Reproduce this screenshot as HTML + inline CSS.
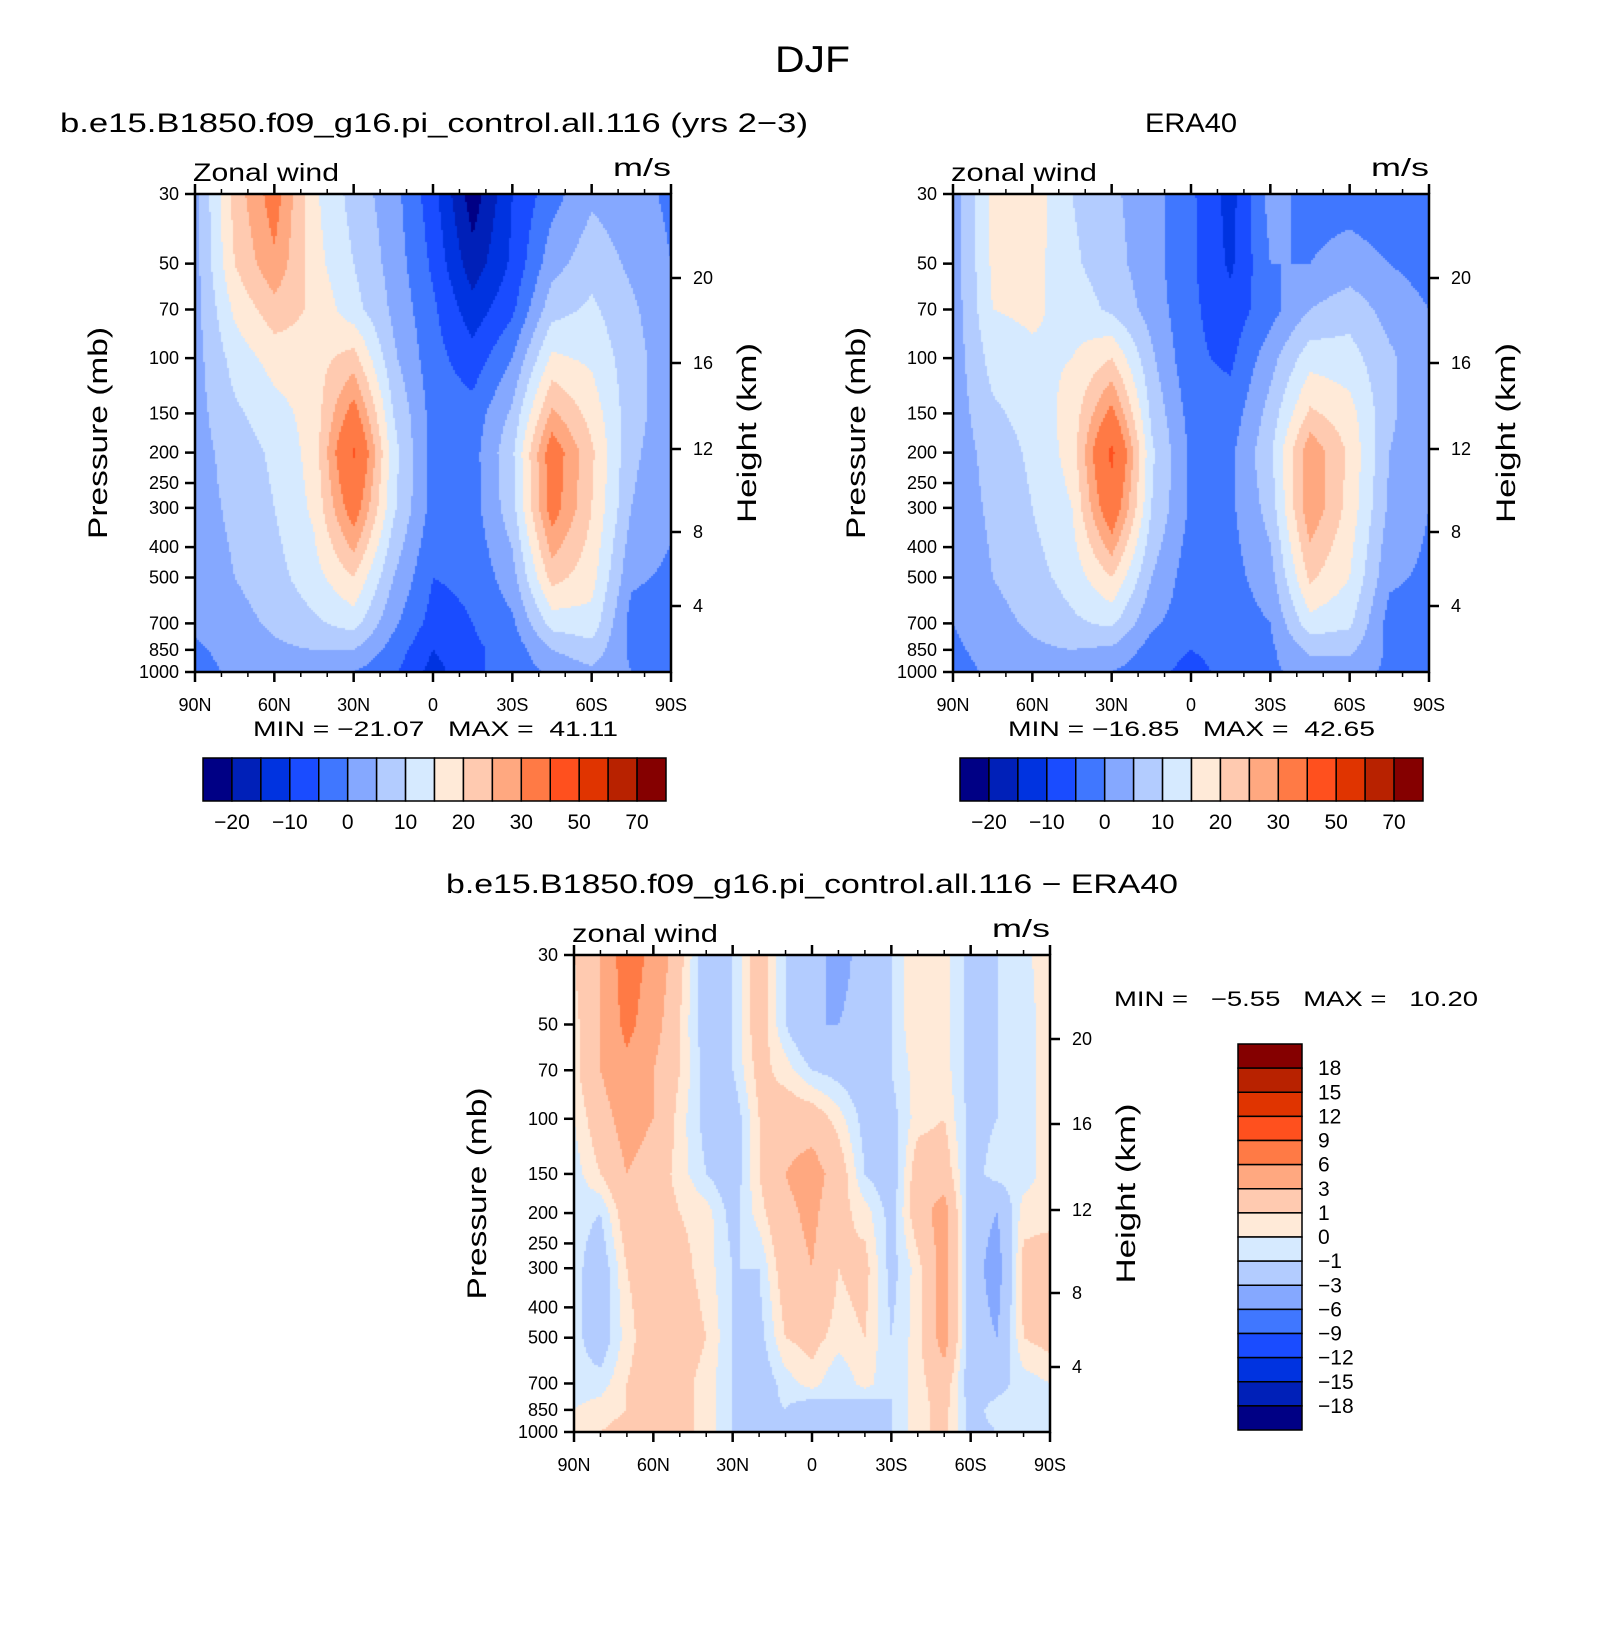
<!DOCTYPE html>
<html><head><meta charset="utf-8">
<style>
html,body{margin:0;padding:0;background:#fff;}
#wrap{position:relative;width:1624px;height:1627px;overflow:hidden;}
canvas{position:absolute;}
svg{position:absolute;left:0;top:0;}
text{font-family:"Liberation Sans",sans-serif;fill:#000;}
</style></head>
<body>
<div id="wrap">
<canvas id="c1" width="476" height="478" style="left:195px;top:194px"></canvas>
<canvas id="c2" width="476" height="478" style="left:953px;top:194px"></canvas>
<canvas id="c3" width="476" height="477" style="left:574px;top:955px"></canvas>
<svg id="ov" width="1624" height="1627">
<text x="775" y="72" font-size="37" textLength="75" lengthAdjust="spacingAndGlyphs">DJF</text>
<text x="60" y="132" font-size="27" textLength="748" lengthAdjust="spacingAndGlyphs">b.e15.B1850.f09_g16.pi_control.all.116 (yrs 2−3)</text>
<text x="1145" y="132" font-size="27" textLength="92" lengthAdjust="spacingAndGlyphs">ERA40</text>
<text x="446" y="893" font-size="27" textLength="732" lengthAdjust="spacingAndGlyphs">b.e15.B1850.f09_g16.pi_control.all.116 − ERA40</text>
<text x="253" y="736" font-size="21" xml:space="preserve" textLength="365" lengthAdjust="spacingAndGlyphs">MIN = −21.07   MAX =  41.11</text>
<text x="1008" y="736" font-size="21" xml:space="preserve" textLength="367" lengthAdjust="spacingAndGlyphs">MIN = −16.85   MAX =  42.65</text>
<text x="1114" y="1006" font-size="21" xml:space="preserve" textLength="364" lengthAdjust="spacingAndGlyphs">MIN =   −5.55   MAX =   10.20</text>
</svg>
</div>
<script>
// ---- data ----
const lats13 = [90,75,60,45,30,15,0,-15,-30,-45,-60,-75,-90];
const lats19 = [90,80,70,60,50,40,30,20,10,0,-10,-20,-30,-40,-50,-60,-70,-80,-90];
const pLevels = [30,50,70,100,150,200,300,500,700,850,1000];
const modelU = [
[3,22,33,16,8,2,-8,-23,-10,-2,4,2,-1],
[3,20,29,17,10,3,-6,-18,-9,3,8,4,0],
[3,16,23,19,12,4,-4,-13,-6,8,11,6,1],
[3,12,17,18,22,6,-3,-8,0,16,14,7,2],
[3,9,13,17,33,10,-2,-3,6,26,18,7,2],
[3,7,11,17,41,12,-2,-2,9,34,21,6,2],
[3,6,10,16,34,11,-2,-2,8,33,20,5,1],
[2,5,8,13,20,5,-5,-4,3,22,17,1,-1],
[1,3,6,9,12,1,-7,-5,-1,12,13,-2,-4],
[-1,2,4,5,5,-2,-10,-6,-3,5,8,-1,-3],
[-2,1,2,2,0,-4,-12,-6,-3,1,4,0,-2]];
const eraU = [
[2,16,18,10,6,2,-4,-12,2,-2,-2,-3,-2],
[2,16,17,11,7,2,-4,-11,0,0,2,0,-2],
[2,15,16,13,9,3,-4,-8,-2,5,8,3,0],
[2,12,14,15,20,6,-4,-6,3,13,12,6,1],
[2,9,12,17,32,9,-2,-3,7,21,17,6,1],
[2,7,11,17,42,11,-1,-1,9,29,19,5,1],
[2,6,10,15,36,10,-1,-1,7,29,18,4,0],
[1,5,8,12,20,5,-3,-2,3,21,15,1,-1],
[0,3,6,9,11,1,-3,-3,0,13,11,-2,-2],
[-1,2,4,5,4,-2,-5,-3,-1,6,6,-1,-2],
[-2,1,2,2,0,-3,-7,-3,-1,2,2,-1,-1]];
const diffU = [
[1,3,8,5,1.5,-2,-1,2,-1,-2,-4,-2,-1,1,0.5,-1.5,-1,-0.5,1],
[0.5,3,7,4,1,-2,-1,2,-1,-3,-3,-2,-1,1,0.5,-1.5,-1,-0.5,0.5],
[0.5,3,5,3,1,-1.5,-1,1.5,0.5,-1,-1.5,-2,-1,0.5,0.5,-1.5,-1,-0.5,0.5],
[0,2,4,3,0.5,-1.5,-2,1,2,2,0.5,-1.5,-1.5,0.5,1,-1.5,-1,-0.5,0.5],
[-0.5,1,3,2,0.5,-1,-2,1,3,4,2,-1,-2,2,2,-1.5,-0.5,-0.5,0.5],
[-0.5,-1,2,2,1,0.5,-1.5,0.5,2.5,3.5,1.5,0.5,-1.5,2,4,-2,-3,0.5,0.5],
[-0.5,-2,1,2,1.5,0.5,-1,-1,2,3,1,1.5,-1.5,0.5,4,-2,-4,1.5,2],
[-0.5,-2,0.5,2,2,1,-1,-1.5,1,1.5,0.5,1,-1,0.5,4,-2,-3,1,1.5],
[-0.5,-0.5,1,2,1.5,0.5,-1,-2,-0.5,0.5,-1,0.5,-1,0.5,2,-2,-1.5,-0.5,0],
[0,0.5,1,1.5,1.5,0.5,-1,-1.5,-1,-2,-1,-2,-1,0.5,1.5,-1.5,-0.5,-0.5,-1],
[0.5,1,1.5,1.5,1.5,0.5,-1,-2,-1.5,-1.5,-2,-1.5,-1,0.5,1.5,-1.5,-1,-1,-1]];
const levelsAbs = [-20,-15,-10,-5,0,5,10,15,20,25,30,40,50,60,70];
const levelsDiff = [-18,-15,-12,-9,-6,-3,-1,0,1,3,6,9,12,15,18];
const colors = ['#000085','#0020b8','#0033e0','#1a4cff','#4077ff','#85a8ff','#b3ccff','#d6eaff','#ffead8','#ffcab0','#ffa880','#ff7a45','#ff501e','#e03400','#b82200','#850000'];
const absBarLabels = ['−20','−10','0','10','20','30','50','70'];
const diffBarLabels = ['18','15','12','9','6','3','1','0','−1','−3','−6','−9','−12','−15','−18'];
const xTickLabels = ['90N','60N','30N','0','30S','60S','90S'];
const xTickLats = [90,60,30,0,-30,-60,-90];
const pTickLabels = [30,50,70,100,150,200,250,300,400,500,700,850,1000];
const hTickLabels = [20,16,12,8,4];

// ---- scales ----
function yScale(p,H){return (Math.log(p/30)/Math.log(1000/30))*H;}
function xScale(lat,W){return (90-lat)/180*W;}
function colorFor(v,levels){let i=0;while(i<levels.length&&v>=levels[i])i++;return colors[i];}
function interp(grid,lats,lat,p){
  let j=0;while(j<lats.length-2&&lat<lats[j+1])j++;
  const tx=(lats[j]-lat)/(lats[j]-lats[j+1]);
  const lp=Math.log(p);let i=0;
  while(i<pLevels.length-2&&lp>Math.log(pLevels[i+1]))i++;
  const ty=(lp-Math.log(pLevels[i]))/(Math.log(pLevels[i+1])-Math.log(pLevels[i]));
  const a=grid[i][j]*(1-tx)+grid[i][j+1]*tx;
  const b=grid[i+1][j]*(1-tx)+grid[i+1][j+1]*tx;
  return a*(1-ty)+b*ty;
}
function drawField(id,grid,lats,levels){
  const c=document.getElementById(id),ctx=c.getContext('2d');
  const W=c.width,H=c.height,s=2;
  for(let y=0;y<H;y+=s){
    const p=30*Math.exp((y+1)/H*Math.log(1000/30));
    for(let x=0;x<W;x+=s){
      const lat=90-(x+1)/W*180;
      ctx.fillStyle=colorFor(interp(grid,lats,lat,p),levels);
      ctx.fillRect(x,y,s,s);
    }
  }
}
drawField('c1',modelU,lats13,levelsAbs);
drawField('c2',eraU,lats13,levelsAbs);
drawField('c3',diffU,lats19,levelsDiff);

// ---- axes ----
const NS='http://www.w3.org/2000/svg';
const svg=document.getElementById('ov');
function mk(tag,attrs,parent){const e=document.createElementNS(NS,tag);for(const k in attrs)e.setAttribute(k,attrs[k]);(parent||svg).appendChild(e);return e;}
function line(x1,y1,x2,y2,w,g){return mk('line',{x1:x1,y1:y1,x2:x2,y2:y2,stroke:'#000','stroke-width':w},g);}
function txt(x,y,s,size,anchor,g,rot,len){const t=mk('text',{x:x,y:y,'font-size':size,'text-anchor':anchor||'start'},g);if(len){t.setAttribute('textLength',len);t.setAttribute('lengthAdjust','spacingAndGlyphs');}if(rot)t.setAttribute('transform','rotate(-90 '+x+' '+y+')');t.textContent=s;return t;}
const hTickOffsets=[84,169,255,338,412];
function axes(L,T,W,H,varLabel,name,plx,hlx){
  const g=mk('g',{});
  
  
  mk('rect',{x:L,y:T,width:W,height:H,fill:'none',stroke:'#000','stroke-width':2.5},g);
  for(let lat=90;lat>=-90;lat-=10){
    const x=L+xScale(lat,W),maj=lat%30===0,len=maj?10:5;
    line(x,T+H,x,T+H+len,maj?2.5:1.5,g);line(x,T,x,T-len,maj?2.5:1.5,g);
  }
  xTickLats.forEach((lat,i)=>{const t=txt(L+xScale(lat,W),T+H+39,xTickLabels[i],18,'middle',g);});
  pTickLabels.forEach(p=>{const y=T+yScale(p,H);line(L-10,y,L,y,2.5,g);const t=txt(L-16,y+6,String(p),18,'end',g);});
  hTickLabels.forEach((h,i)=>{const y=T+hTickOffsets[i];line(L+W,y,L+W+10,y,2.5,g);const t=txt(L+W+22,y+6,String(h),18,'start',g);});
  const a=txt(plx,T+H/2,'Pressure (mb)',27,'middle',g,true,212);
  const b=txt(hlx,T+H/2,'Height (km)',27,'middle',g,true,180);
  const v=txt(L-2,T-13,varLabel,25,'start',g,false,146);
  const u=txt(L+W-58,T-18,'m/s',25,'start',g,false,58);
}
axes(195,194,476,478,'Zonal wind','model',107,756);
axes(953,194,476,478,'zonal wind','era40',865,1515);
axes(574,955,476,477,'zonal wind','difference',486,1135);

function hbar(L,T,W,H,name){
  const g=mk('g',{});
  
  
  const bw=W/16;
  colors.forEach((c,i)=>{mk('rect',{x:L+i*bw,y:T,width:bw,height:H,fill:c,stroke:'#000','stroke-width':1.5},g);});
  absBarLabels.forEach((s,k)=>{const t=txt(L+(2*k+1)*bw,T+H+28,s,21,'middle',g);});
}
hbar(203,758,463,43,'model-colorbar');
hbar(960,758,463,43,'era40-colorbar');
(function(){
  const g=mk('g',{});
  
  
  const L=1238,T=1044,W=64,H=386,bh=H/16;
  colors.slice().reverse().forEach((c,i)=>{mk('rect',{x:L,y:T+i*bh,width:W,height:bh,fill:c,stroke:'#000','stroke-width':1.5},g);});
  diffBarLabels.forEach((s,k)=>{const t=txt(L+W+16,T+(k+1)*bh+7,s,21,'start',g);});
})();
</script>
</body></html>
